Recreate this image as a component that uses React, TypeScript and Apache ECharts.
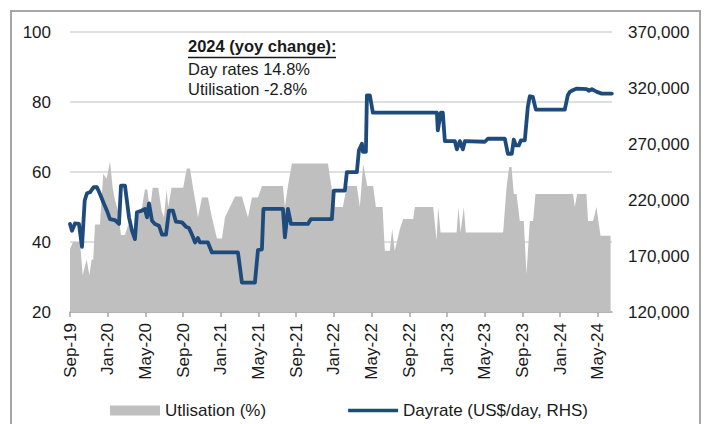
import React, { useEffect, useRef } from "react";
import * as echarts from "echarts";

// x values: months elapsed since Sep-2019 (axis start)
const xTickLabels = [
  "Sep-19", "Jan-20", "May-20", "Sep-20", "Jan-21", "May-21", "Sep-21", "Jan-22",
  "May-22", "Sep-22", "Jan-23", "May-23", "Sep-23", "Jan-24", "May-24",
];
const leftTicks = [20, 40, 60, 80, 100];
const rightTicks = [120000, 170000, 220000, 270000, 320000, 370000];

const utilMonths = [
  0, 0.32, 1.06, 1.35, 1.77, 2.05, 2.3, 2.47, 2.65, 3.18, 3.53, 3.89, 4.24, 4.53, 4.77, 5.09,
  5.41, 5.83, 6.18, 6.54, 6.89, 7.24, 7.64, 7.95, 8.2, 8.48, 8.77, 9.36, 9.72, 9.97, 10.25,
  10.42, 10.78, 12.01, 12.38, 12.73, 13.08, 13.44, 13.57, 14.0, 14.63, 15.06, 15.59, 16.12,
  16.44, 16.97, 17.5, 18.24, 18.56, 18.88, 19.3, 19.94, 20.36, 22.59, 22.8, 23.12, 23.54,
  27.36, 27.78, 28.1, 28.95, 29.37, 30.43, 30.75, 31.1, 31.53, 32.16, 32.45, 33.16, 33.4,
  33.93, 34.18, 34.46, 35.0, 35.34, 36.4, 36.59, 38.53, 38.89, 39.06, 39.31, 41.01, 41.22,
  41.43, 41.78, 41.99, 45.95, 46.31, 46.59, 46.84, 47.08, 47.37, 47.72, 48.14, 48.43, 48.78,
  49.13, 49.38, 53.37, 53.55, 53.8, 54.79, 54.96, 55.49, 55.85, 56.28, 57.35,
];
const utilValues = [
  38, 40, 40, 30.5, 35, 30.5, 35, 35, 45, 45, 59.5, 58, 63, 55.5, 52, 49,
  42, 42, 45, 42, 42, 48, 50, 55, 55, 49, 55.5, 55.5, 49, 47, 55,
  50, 55.5, 55.5, 61, 61, 55, 49.5, 47, 52.7, 52.7, 47, 41, 41,
  47, 50, 53, 53, 50, 47, 52.7, 52.7, 56, 56, 50, 56, 62.4,
  62.4, 55, 50, 50, 56, 56, 50, 62.3, 56, 56, 50, 50, 37.5,
  37.5, 43.7, 37.5, 43.7, 46.6, 46.6, 50, 50, 40.4, 50, 42.7, 42.7, 50,
  42.7, 50, 42.7, 42.7, 55.6, 61.4, 61.4, 53.7, 53.7, 46, 46, 30.8, 46,
  46, 53.7, 53.7, 50, 53.7, 53.7, 46, 46, 50, 41.8, 41.8,
];

const rateMonths = [
  0, 0.21, 0.53, 0.95, 1.27, 1.56, 1.8, 2.12, 2.51, 2.86, 3.18, 3.61, 3.92, 4.24, 4.77, 5.2,
  5.41, 5.83, 6.26, 6.57, 6.89, 7.1, 7.64, 7.95, 8.17, 8.38, 8.7, 9.01, 9.44, 9.76, 10.18,
  10.5, 10.92, 11.24, 11.88, 12.3, 12.62, 13.04, 13.26, 13.57, 13.79, 14.63, 15.06, 17.82,
  18.24, 19.62, 19.94, 20.36, 20.52, 22.59, 22.8, 23.12, 23.44, 25.24, 25.56, 27.78, 27.99,
  29.16, 29.37, 30.43, 30.65, 30.97, 31.07, 31.39, 31.5, 31.81, 32.13, 38.92, 39.02, 39.34,
  39.55, 39.77, 40.83, 41.04, 41.36, 41.68, 41.89, 44.01, 44.33, 46.13, 46.45, 46.87, 47.08,
  47.3, 47.61, 47.83, 48.25, 48.57, 48.78, 49.1, 49.42, 52.49, 52.81, 53.02, 53.34, 53.77,
  54.83, 55.04, 55.36, 55.89, 56.42, 57.48,
];
const rateValues = [
  198600, 192600, 199100, 198600, 178200, 219500, 226000, 226900, 231400, 231400, 225400,
  216500, 210500, 203000, 202000, 198600, 232900, 232900, 204500, 192600, 185100, 209000,
  210500, 212000, 204500, 217000, 201500, 198600, 197000, 189000, 189000, 210500, 210500,
  200650, 200000, 196200, 195000, 187200, 182100, 186000, 182100, 182100, 173150, 173150,
  146300, 146300, 175300, 176000, 212000, 212000, 186600, 212000, 198600, 198600, 203000,
  203000, 228400, 228400, 244800, 244800, 264300, 270300, 263000, 263000, 313500, 313500,
  298000, 298000, 282200, 298000, 298000, 272600, 272600, 265200, 272600, 265200, 272600,
  272000, 274700, 274700, 261300, 261300, 274000, 268700, 268700, 273200, 273200, 303100,
  312650, 312000, 300700, 300700, 313500, 316500, 318000, 319500, 319000, 317500, 319000,
  316500, 315000, 315000,
];

const FONT = "'Liberation Sans', Arial, sans-serif";
const TXT = "#1a1a1a";
const FS = 17;

export default function App() {
  const ref = useRef<HTMLDivElement>(null);
  useEffect(() => {
    if (!ref.current) return;
    const chart = echarts.init(ref.current, null, { renderer: "svg" });
    const xTicks = xTickLabels.map((_, i) => i * 4);
    chart.setOption({
      animation: false,
      backgroundColor: "#ffffff",
      textStyle: { fontFamily: FONT },
      grid: { left: 70, right: 94, top: 32, bottom: 112, containLabel: false },
      legend: {
        left: 105,
        top: 397,
        itemGap: 82,
        itemWidth: 50,
        itemHeight: 10,
        textStyle: { fontFamily: FONT, fontSize: FS, color: TXT },
        data: [
          { name: "Utlisation (%)", icon: "rect" },
          { name: "Dayrate (US$/day, RHS)", icon: "path://M0,0h50v3.5h-50z" },
        ],
      },
      xAxis: {
        type: "value",
        min: 0,
        max: 57.5,
        axisLine: { show: true, lineStyle: { color: "#a6a6a6", width: 1.5 } },
        axisTick: { show: true, customValues: xTicks, length: 5, lineStyle: { color: "#a6a6a6", width: 1.5 } },
        splitLine: { show: false },
        axisLabel: {
          customValues: xTicks,
          rotate: 90,
          margin: 11,
          fontFamily: FONT,
          fontSize: FS,
          color: TXT,
          formatter: (v: number) => xTickLabels[Math.round(v / 4)] ?? "",
        },
      },
      yAxis: [
        {
          type: "value",
          min: 20,
          max: 100,
          interval: 20,
          axisLine: { show: false },
          axisTick: { show: false },
          splitLine: { show: true, lineStyle: { color: "#d4d4d4", width: 1.5 } },
          axisLabel: {
            customValues: leftTicks,
            margin: 19,
            fontFamily: FONT,
            fontSize: FS,
            color: TXT,
          },
        },
        {
          type: "value",
          min: 120000,
          max: 370000,
          axisLine: { show: false },
          axisTick: { show: false },
          splitLine: { show: false },
          axisLabel: {
            customValues: rightTicks,
            margin: 16,
            fontFamily: FONT,
            fontSize: FS,
            color: TXT,
            formatter: (v: number) => v.toLocaleString("en-US"),
          },
        },
      ],
      series: [
        {
          name: "Utlisation (%)",
          type: "line",
          yAxisIndex: 0,
          symbol: "none",
          data: utilMonths.map((m, i) => [m, utilValues[i]]),
          lineStyle: { width: 0, color: "#bfbfbf" },
          itemStyle: { color: "#bfbfbf" },
          areaStyle: { color: "#bfbfbf", opacity: 1 },
          z: 1,
        },
        {
          name: "Dayrate (US$/day, RHS)",
          type: "line",
          yAxisIndex: 1,
          symbol: "none",
          data: rateMonths.map((m, i) => [m, rateValues[i]]),
          lineStyle: { width: 3.8, color: "#1f4a7c", cap: "round", join: "round" },
          itemStyle: { color: "#1f4a7c" },
          z: 3,
        },
      ],
      graphic: [
        {
          type: "rect",
          shape: { x: 11, y: 11, width: 689, height: 440 },
          style: { fill: "none", stroke: "#a6a6a6", lineWidth: 2 },
          silent: true,
        },
        {
          type: "text",
          x: 188,
          y: 46,
          style: { text: "2024 (yoy change):", font: `bold 16.5px ${FONT}`, fill: TXT, verticalAlign: "middle" },
        },
        {
          type: "line",
          shape: { x1: 188, y1: 57.5, x2: 336, y2: 57.5 },
          style: { stroke: TXT, lineWidth: 1.3 },
        },
        {
          type: "text",
          x: 188,
          y: 68.5,
          style: { text: "Day rates 14.8%", font: `16.5px ${FONT}`, fill: TXT, verticalAlign: "middle" },
        },
        {
          type: "text",
          x: 188,
          y: 88.5,
          style: { text: "Utilisation -2.8%", font: `16.5px ${FONT}`, fill: TXT, verticalAlign: "middle" },
        },
      ],
    });
    return () => chart.dispose();
  }, []);
  return (
    <div
      ref={ref}
      style={{ position: "fixed", left: 0, top: 0, width: 706, height: 424, background: "#fff" }}
    />
  );
}
